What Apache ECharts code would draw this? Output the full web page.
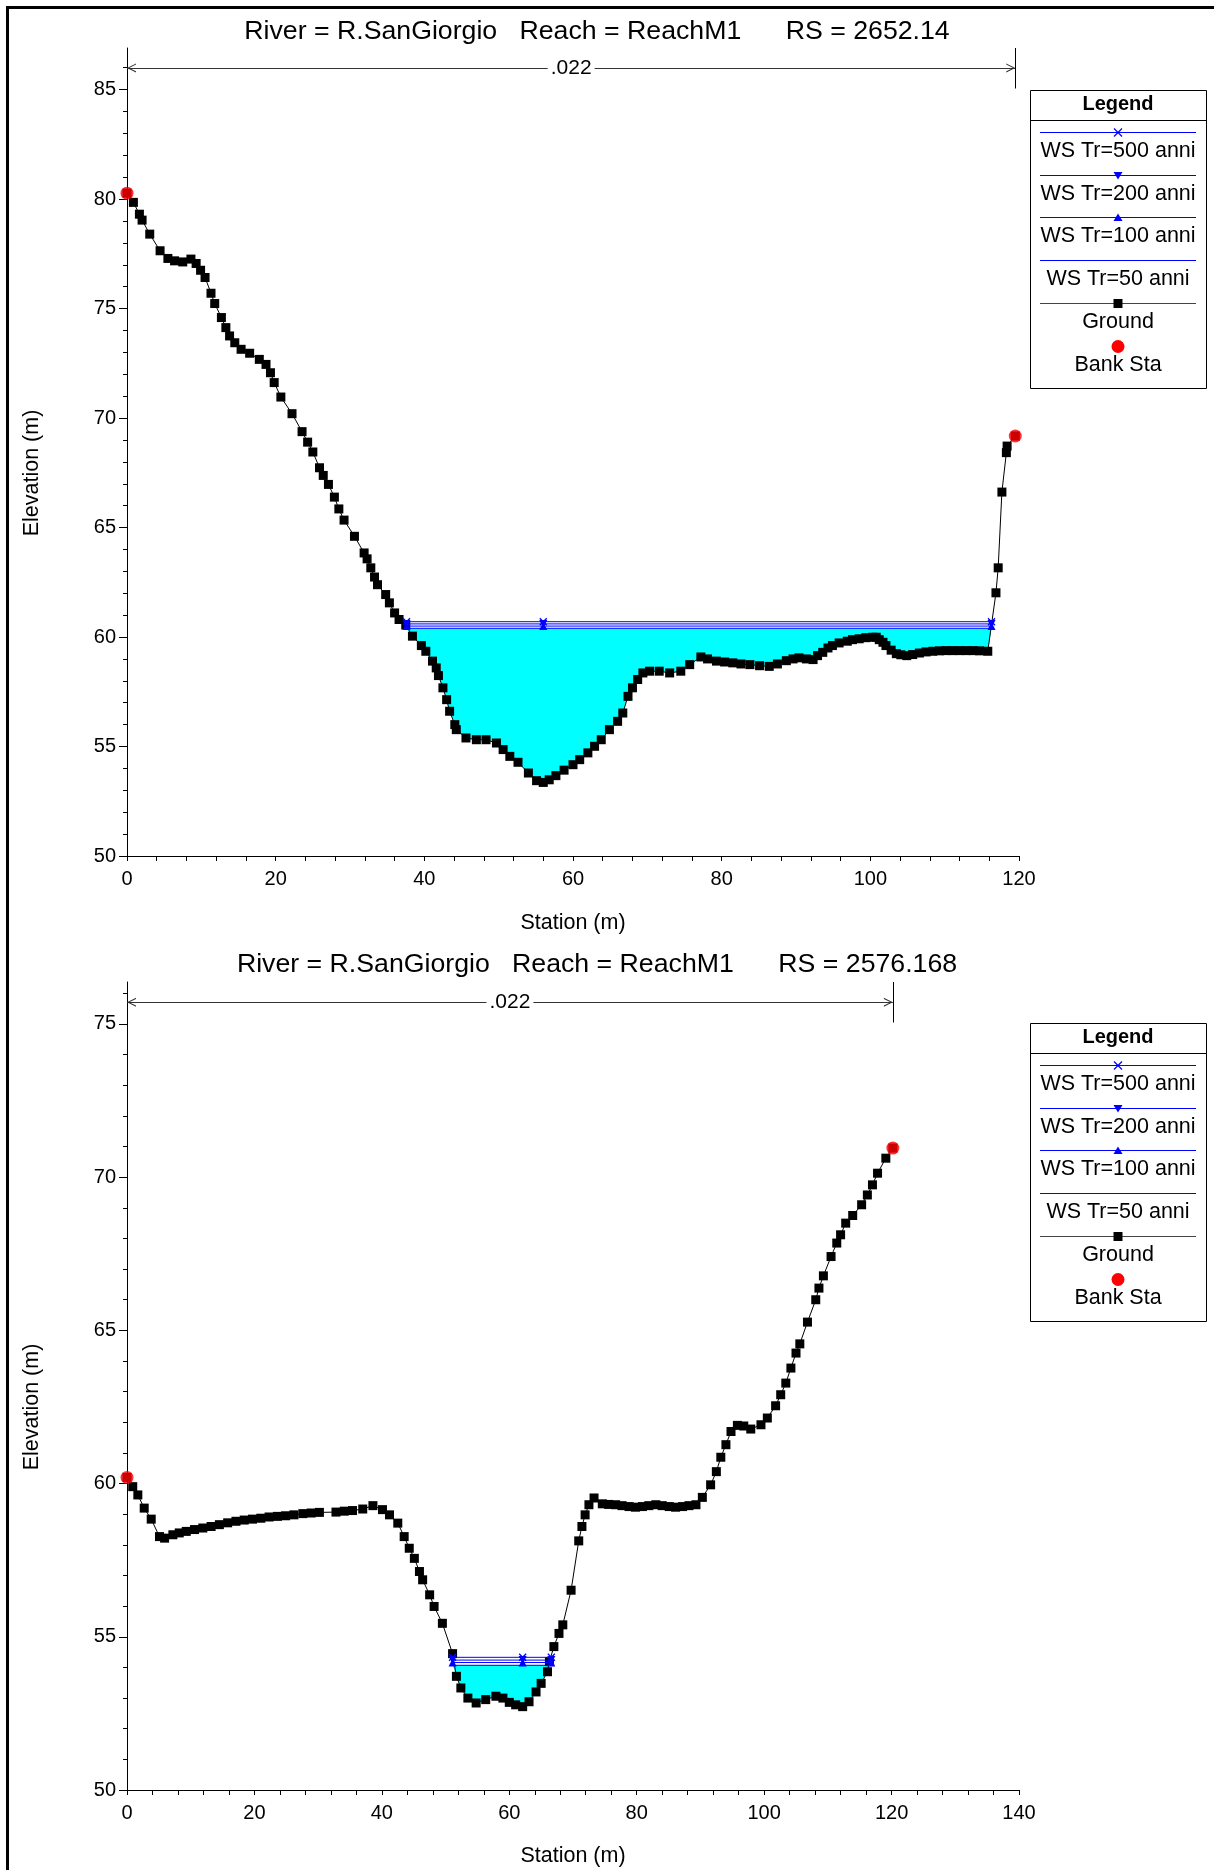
<!DOCTYPE html>
<html>
<head>
<meta charset="utf-8">
<script src="https://cdn.jsdelivr.net/npm/echarts@6/dist/echarts.min.js"></script>
<style>
html,body{margin:0;padding:0;background:#fff;}
#chart{width:1214px;height:1870px;}
</style>
</head>
<body>
<div id="chart"></div>
<script>
const FONT = '"Liberation Sans", Arial, Helvetica, sans-serif';

// ---------- Cross section 1 : RS = 2652.14 ----------
const title1 = 'River = R.SanGiorgio   Reach = ReachM1      RS = 2652.14';
const station1 = [0,0.86,1.67,2.03,3.06,4.45,5.5,6.4,7.5,8.6,9.3,9.9,10.5,11.3,11.8,12.7,13.3,13.8,14.5,15.35,16.5,17.8,18.7,19.3,19.8,20.7,22.2,23.55,24.3,25.0,25.9,26.4,27.1,27.9,28.5,29.2,30.6,31.9,32.3,32.8,33.3,33.7,34.8,35.3,36.0,36.6,37.5,38.4,39.6,40.2,41.1,41.6,41.9,42.5,43.0,43.4,44.1,44.3,45.6,47.0,48.3,49.7,50.6,51.5,52.6,54.0,55.1,56.0,56.8,57.7,58.8,60.0,60.9,62.0,62.9,63.8,64.9,66.0,66.7,67.4,68.0,68.7,69.4,70.3,71.6,73.0,74.5,75.7,77.2,78.1,79.3,80.4,81.5,82.6,83.8,85.1,86.4,87.5,88.7,89.6,90.4,91.4,92.3,92.9,93.6,94.3,94.9,95.8,96.9,97.6,98.5,99.4,100.3,100.8,101.2,101.7,102.1,102.8,103.5,104.1,104.9,105.7,106.6,107.5,108.4,109.3,110.2,111.1,112.0,112.9,113.8,114.7,115.8,116.9,117.2,117.7,118.3,118.4,119.5];
const elev1 = [80.27,79.85,79.31,79.04,78.40,77.64,77.29,77.18,77.13,77.26,77.06,76.75,76.42,75.70,75.23,74.59,74.13,73.75,73.44,73.14,72.96,72.68,72.45,72.07,71.62,70.96,70.20,69.38,68.90,68.45,67.73,67.38,66.97,66.39,65.85,65.34,64.60,63.84,63.57,63.16,62.74,62.39,61.94,61.56,61.10,60.80,60.55,60.04,59.61,59.35,58.90,58.59,58.24,57.68,57.14,56.61,56.00,55.77,55.39,55.31,55.31,55.16,54.86,54.55,54.28,53.79,53.44,53.36,53.48,53.67,53.92,54.17,54.40,54.71,55.01,55.31,55.77,56.15,56.53,57.29,57.68,58.06,58.36,58.44,58.44,58.36,58.44,58.74,59.09,59.00,58.90,58.86,58.82,58.77,58.74,58.69,58.66,58.77,58.92,59.00,59.05,59.00,58.97,59.15,59.30,59.50,59.61,59.73,59.81,59.88,59.92,59.97,59.99,59.99,59.88,59.76,59.61,59.40,59.24,59.19,59.15,59.20,59.27,59.32,59.35,59.37,59.38,59.38,59.38,59.38,59.38,59.37,59.35,62.02,63.16,66.62,68.42,68.72,69.18];
const bankSta1 = [0, 119.5];
const bankElev1 = [80.27, 69.18];
const wsLevels1 = [60.70, 60.60, 60.50, 60.40];       // Tr=500, 200, 100, 50
const wsStations1 = [37.6, 56.0, 116.3];              // left edge, thalweg, right edge
const manningN1 = '.022';
const manningSpan1 = [0, 119.5];
const manningY1 = 85.99;
const manningBar1 = [86.9, 85.05];
const xMax1 = 120;
const yRange1 = [50, 86.9];
const xTicks1 = [0, 20, 40, 60, 80, 100, 120];
const yTicks1 = [50, 55, 60, 65, 70, 75, 80, 85];
const yMinor1 = [51,52,53,54,56,57,58,59,61,62,63,64,66,67,68,69,71,72,73,74,76,77,78,79,81,82,83,84,86];

// ---------- Cross section 2 : RS = 2576.168 ----------
const title2 = 'River = R.SanGiorgio   Reach = ReachM1      RS = 2576.168';
const station2 = [0.0,0.9,1.7,2.7,3.8,5.1,5.9,7.2,8.2,9.3,10.6,11.9,13.2,14.5,15.8,17.1,18.4,19.7,21.0,22.3,23.6,24.9,26.2,27.6,28.9,30.2,32.8,34.1,35.4,37.0,38.6,40.1,41.2,42.5,43.5,44.3,45.1,45.9,46.4,47.5,48.2,49.5,51.1,51.7,52.4,53.5,54.8,56.3,57.9,59.0,60.0,61.0,62.1,63.1,64.2,65.0,66.0,66.3,67.0,67.8,68.4,69.7,70.9,71.4,71.9,72.5,73.3,74.6,75.6,76.7,77.7,78.8,79.8,80.9,81.9,83.0,84.0,85.1,86.1,87.2,88.2,89.3,90.3,91.6,92.5,93.2,94.0,94.8,95.8,96.8,97.9,99.5,100.5,101.8,102.6,103.4,104.2,105.0,105.6,106.8,108.1,108.6,109.3,110.5,111.4,112.0,112.8,113.9,115.3,116.2,117.0,117.8,119.1,120.2];
const elev2 = [60.20,59.90,59.63,59.20,58.84,58.27,58.22,58.33,58.39,58.44,58.50,58.55,58.60,58.66,58.72,58.77,58.81,58.84,58.87,58.91,58.93,58.95,58.98,59.02,59.04,59.06,59.07,59.10,59.12,59.17,59.28,59.15,58.98,58.71,58.27,57.89,57.56,57.13,56.86,56.37,55.99,55.44,54.45,53.71,53.33,53.00,52.84,52.95,53.06,53.00,52.86,52.78,52.72,52.88,53.20,53.48,53.86,54.19,54.68,55.11,55.39,56.52,58.13,58.60,58.98,59.31,59.53,59.34,59.32,59.31,59.28,59.25,59.23,59.25,59.28,59.31,59.28,59.25,59.23,59.25,59.28,59.31,59.55,59.96,60.39,60.86,61.27,61.70,61.90,61.88,61.78,61.92,62.14,62.54,62.90,63.28,63.77,64.26,64.56,65.27,66.00,66.38,66.78,67.41,67.85,68.12,68.50,68.75,69.10,69.42,69.75,70.13,70.62,70.95];
const bankSta2 = [0, 120.2];
const bankElev2 = [60.20, 70.95];
const wsLevels2 = [54.33, 54.24, 54.16, 54.07];
const wsStations2 = [51.1, 62.1, 66.6];
const manningN2 = '.022';
const manningSpan2 = [0, 120.2];
const manningY2 = 75.71;
const manningBar2 = [76.37, 75.05];
const xMax2 = 140;
const yRange2 = [50, 76.37];
const xTicks2 = [0, 20, 40, 60, 80, 100, 120, 140];
const yTicks2 = [50, 55, 60, 65, 70, 75];
const yMinor2 = [51,52,53,54,56,57,58,59,61,62,63,64,66,67,68,69,71,72,73,74,76];

// ---------- shared labels ----------
const wsNames = ['WS Tr=500 anni', 'WS Tr=200 anni', 'WS Tr=100 anni', 'WS Tr=50 anni'];
const legendNames = ['WS Tr=500 anni', 'WS Tr=200 anni', 'WS Tr=100 anni', 'WS Tr=50 anni', 'Ground', 'Bank Sta'];
const xAxisName = 'Station (m)';
const yAxisName = 'Elevation (m)';

// ---------- styles ----------
const BLUE = '#0000ff', CYAN = '#00ffff', RED = '#ff0000';
const X_SYMBOL = 'path://M0,0L10,10M10,0L0,10';
const CHEVRON = 'path://M5,0M5,8L10,16L8.7,16L5,10L1.3,16L0,16Z';
const wsSymbols = [X_SYMBOL, 'triangle', 'triangle', 'none'];
const wsRotate = [0, 180, 0, 0];
const wsSizes = [7, 8, 8, 0];

const grids = [
  {left: 127, top: 48, width: 892, height: 808},
  {left: 127, top: 982, width: 892, height: 808}
];

function zip(a, b) { return a.map((v, i) => [v, b[i]]); }

function waterPolygon(st, el, wsSt, level) {
  const pts = [[wsSt[0], level]];
  for (let i = 0; i < st.length; i++) {
    if (st[i] > wsSt[0] && st[i] < wsSt[2]) pts.push([st[i], el[i]]);
  }
  pts.push([wsSt[2], level]);
  return pts;
}

function xAxisCfg(gi, max) {
  return {
    gridIndex: gi, type: 'value', min: 0, max: max, interval: 20,
    axisLine: {onZero: false, lineStyle: {color: '#000', width: 1}},
    axisTick: {show: true, length: 5, lineStyle: {color: '#000'}},
    minorTick: {show: true, splitNumber: 5, length: 5, lineStyle: {color: '#000'}},
    axisLabel: {fontSize: 20, color: '#000', margin: 13, fontFamily: FONT},
    splitLine: {show: false}, minorSplitLine: {show: false}
  };
}
function yAxisCfgs(gi, range, ticks, minor) {
  return [{
    gridIndex: gi, type: 'value', min: range[0], max: range[1], position: 'left',
    axisLine: {show: true, onZero: false, lineStyle: {color: '#000', width: 1}},
    axisTick: {show: true, length: 8, customValues: ticks, lineStyle: {color: '#000'}},
    axisLabel: {customValues: ticks, fontSize: 20, color: '#000', margin: 11, fontFamily: FONT},
    splitLine: {show: false}
  }, {
    gridIndex: gi, type: 'value', min: range[0], max: range[1], position: 'left',
    axisLine: {show: false}, axisLabel: {show: false}, splitLine: {show: false},
    axisTick: {show: true, length: 4, customValues: minor, lineStyle: {color: '#000'}}
  }];
}

function chartSeries(gi, st, el, bankSt, bankEl, wsLv, wsSt, nText, nSpan, nY, nBar) {
  const yi = gi * 2;
  const series = [];
  const water = waterPolygon(st, el, wsSt, wsLv[wsLv.length - 1]);
  series.push({
    type: 'custom', xAxisIndex: gi, yAxisIndex: yi, z: 1, silent: true, clip: true,
    data: [[wsSt[0], wsLv[wsLv.length - 1]]],
    renderItem: function (params, api) {
      return {type: 'polygon', shape: {points: water.map(p => api.coord(p))}, style: {fill: CYAN}};
    }
  });
  series.push({
    name: 'Ground', type: 'line', xAxisIndex: gi, yAxisIndex: yi, z: 3,
    data: zip(st, el), showAllSymbol: true,
    symbol: 'rect', symbolSize: 9,
    itemStyle: {color: '#000'}, lineStyle: {color: '#000', width: 1},
    emphasis: {disabled: true},
    markLine: {
      silent: true, animation: false,
      symbol: [CHEVRON, CHEVRON], symbolSize: [9, 18],
      lineStyle: {color: '#333', width: 1, type: 'solid'},
      emphasis: {disabled: true},
      label: {show: true, position: 'middle', formatter: nText, color: '#000', fontSize: 21,
              fontFamily: FONT, backgroundColor: '#fff', padding: [0, 3], distance: 0, verticalAlign: 'middle'},
      data: [
        [{coord: [nSpan[0], nY]}, {coord: [nSpan[1], nY]}],
        [{coord: [nSpan[1], nBar[0]], symbol: 'none', label: {show: false}, lineStyle: {color: '#000'}},
         {coord: [nSpan[1], nBar[1]], symbol: 'none'}]
      ]
    }
  });
  wsLv.forEach((lv, k) => {
    series.push({
      name: wsNames[k], type: 'line', xAxisIndex: gi, yAxisIndex: yi, z: 4,
      data: wsSt.map(s => [s, lv]), showAllSymbol: true,
      symbol: wsSymbols[k], symbolSize: wsSizes[k], symbolRotate: wsRotate[k],
      itemStyle: {color: BLUE, borderColor: BLUE, borderWidth: k === 0 ? 1.3 : 0},
      lineStyle: {color: BLUE, width: 1}, emphasis: {disabled: true}
    });
  });
  series.push({
    name: 'Bank Sta', type: 'scatter', xAxisIndex: gi, yAxisIndex: yi, z: 5,
    data: zip(bankSt, bankEl), symbol: 'circle', symbolSize: 13,
    itemStyle: {color: RED}, emphasis: {disabled: true}
  });
  return series;
}

function legendGraphic(top) {
  const L = 1030, W = 176, H = 298, cx = L + W / 2;
  const els = [];
  els.push({type: 'rect', shape: {x: L + 0.5, y: top + 0.5, width: W, height: H},
            style: {fill: '#fff', stroke: '#000', lineWidth: 1}});
  els.push({type: 'text', x: cx, y: top + 14,
            style: {text: 'Legend', font: 'bold 20px ' + FONT, fill: '#000', align: 'center', verticalAlign: 'middle'}});
  els.push({type: 'line', shape: {x1: L, y1: top + 30.5, x2: L + W, y2: top + 30.5}, style: {stroke: '#000', lineWidth: 1}});
  legendNames.forEach((name, i) => {
    const ly = Math.round(top + 42 + i * 42.7) + 0.5;
    const ty = ly + 19;
    if (i < 5) {
      els.push({type: 'line', shape: {x1: L + 10, y1: ly, x2: L + 166, y2: ly},
                style: {stroke: i < 4 ? BLUE : '#444', lineWidth: 1}});
    }
    if (i === 0) {
      els.push({type: 'line', shape: {x1: cx - 4, y1: ly - 4, x2: cx + 4, y2: ly + 4}, style: {stroke: BLUE, lineWidth: 1.2}});
      els.push({type: 'line', shape: {x1: cx + 4, y1: ly - 4, x2: cx - 4, y2: ly + 4}, style: {stroke: BLUE, lineWidth: 1.2}});
    } else if (i === 1) {
      els.push({type: 'polygon', shape: {points: [[cx - 4.5, ly - 3.5], [cx + 4.5, ly - 3.5], [cx, ly + 4]]}, style: {fill: BLUE}});
    } else if (i === 2) {
      els.push({type: 'polygon', shape: {points: [[cx - 4.5, ly + 3.5], [cx + 4.5, ly + 3.5], [cx, ly - 4]]}, style: {fill: BLUE}});
    } else if (i === 4) {
      els.push({type: 'rect', shape: {x: cx - 4.5, y: ly - 4.5, width: 9, height: 9}, style: {fill: '#000'}});
    } else if (i === 5) {
      els.push({type: 'circle', shape: {cx: cx, cy: ly, r: 6.5}, style: {fill: RED}});
    }
    els.push({type: 'text', x: cx, y: ty,
              style: {text: name, font: '21.5px ' + FONT, fill: '#000', align: 'center', verticalAlign: 'middle'}});
  });
  return els;
}

function textEl(str, x, y, size, rot) {
  return {type: 'text', x: x, y: y, rotation: rot || 0,
          style: {text: str, font: size + 'px ' + FONT, fill: '#000', align: 'center', verticalAlign: 'middle'}};
}

const graphics = [
  {type: 'rect', shape: {x: 7.5, y: 7.5, width: 1400, height: 2000}, style: {fill: 'none', stroke: '#000', lineWidth: 3}, z: 10},
  textEl(title1, 597, 31.5, 26.7),
  textEl(title2, 597, 965, 26.7),
  textEl(xAxisName, 573, 923, 21.5),
  textEl(xAxisName, 573, 1856.5, 21.5),
  textEl(yAxisName, 32, 473, 21.5, Math.PI / 2),
  textEl(yAxisName, 32, 1407, 21.5, Math.PI / 2)
].concat(legendGraphic(90)).concat(legendGraphic(1023));

const chart = echarts.init(document.getElementById('chart'), null, {renderer: 'canvas'});
chart.setOption({
  backgroundColor: '#fff',
  animation: false,
  grid: grids,
  xAxis: [xAxisCfg(0, xMax1), xAxisCfg(1, xMax2)],
  yAxis: yAxisCfgs(0, yRange1, yTicks1, yMinor1).concat(yAxisCfgs(1, yRange2, yTicks2, yMinor2)),
  series: chartSeries(0, station1, elev1, bankSta1, bankElev1, wsLevels1, wsStations1, manningN1, manningSpan1, manningY1, manningBar1)
    .concat(chartSeries(1, station2, elev2, bankSta2, bankElev2, wsLevels2, wsStations2, manningN2, manningSpan2, manningY2, manningBar2)),
  graphic: graphics
});
</script>
</body>
</html>
